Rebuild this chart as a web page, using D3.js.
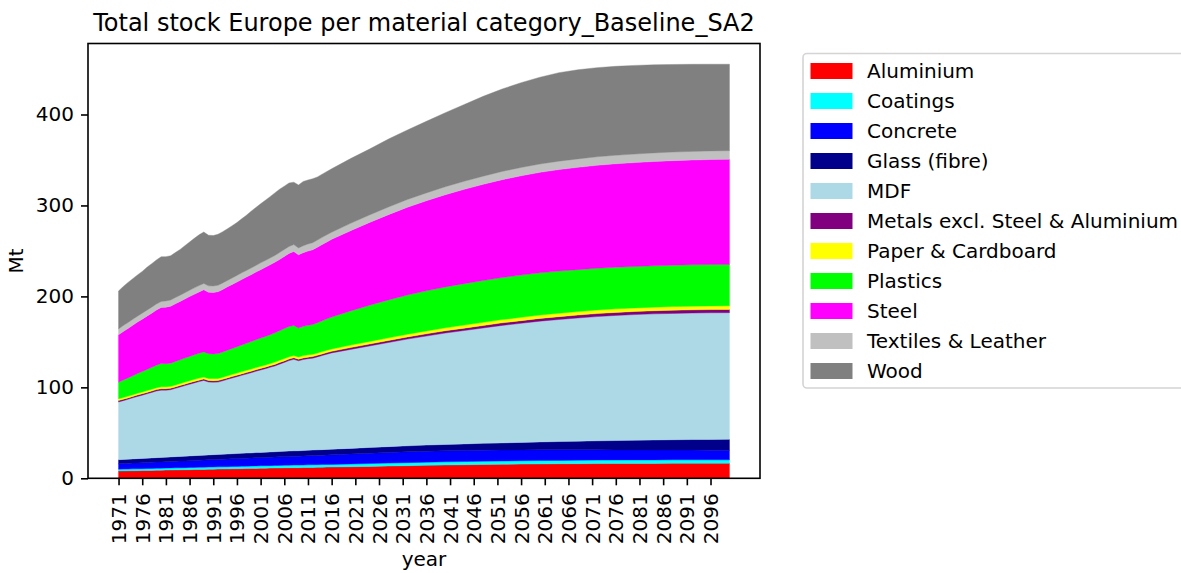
<!DOCTYPE html>
<meta charset="utf-8">
<script src="https://d3js.org/d3.v7.min.js"></script>
<style>
  body { margin: 0; background: #fff; }
  text { font-family: "DejaVu Sans", sans-serif; fill: #000; }
</style>
<div id="my_dataviz"></div>
<script>

// years (yearly until 2016, then every 4 years)
var years = [1971,1972,1973,1974,1975,1976,1977,1978,1979,1980,
  1981,1982,1983,1984,1985,1986,1987,1988,1989,1990,
  1991,1992,1993,1994,1995,1996,1997,1998,1999,2000,
  2001,2002,2003,2004,2005,2006,2007,2008,2009,2010,
  2011,2012,2013,2014,2015,2016,
  2020,2024,2028,2032,2036,2040,2044,2048,2052,2056,
  2060,2064,2068,2072,2076,2080,2084,2088,2092,2096,2100];

var categories = ["Aluminium", "Coatings", "Concrete", "Glass (fibre)", "MDF",
  "Metals excl. Steel & Aluminium", "Paper & Cardboard", "Plastics", "Steel",
  "Textiles & Leather", "Wood"];

var colors = ["#ff0000", "#00ffff", "#0000ff", "#00008b", "#add8e6",
  "#800080", "#ffff00", "#00ff00", "#ff00ff", "#c0c0c0", "#808080"];

// stock in Mt, one array per material
var aluminium = [8.0,8.1,8.2,8.3,8.4,8.5,8.6,8.7,8.8,8.9,
  9.0,9.1,9.2,9.3,9.4,9.5,9.6,9.7,9.8,9.9,
  10.0,10.1,10.2,10.3,10.4,10.5,10.6,10.7,10.8,10.9,
  11.0,11.1,11.2,11.3,11.4,11.5,11.6,11.7,11.7,11.8,
  11.9,12.0,12.1,12.2,12.3,12.4,
  12.7,13.1,13.5,13.9,14.3,14.6,14.9,15.2,15.4,15.6,
  15.8,16.0,16.1,16.2,16.3,16.4,16.4,16.5,16.5,16.5,16.5];
var coatings = [2.0,2.0,2.0,2.1,2.1,2.1,2.1,2.2,2.2,2.2,
  2.2,2.3,2.3,2.3,2.3,2.4,2.4,2.4,2.4,2.5,
  2.5,2.5,2.5,2.5,2.6,2.6,2.6,2.6,2.6,2.7,
  2.7,2.7,2.7,2.7,2.8,2.8,2.8,2.8,2.8,2.8,
  2.9,2.9,2.9,2.9,2.9,2.9,
  3.0,3.1,3.2,3.3,3.4,3.5,3.5,3.6,3.6,3.7,
  3.7,3.7,3.8,3.8,3.8,3.8,3.8,3.8,3.8,3.8,3.8];
var concrete = [6.0,6.1,6.2,6.3,6.4,6.5,6.6,6.7,6.8,6.9,
  7.0,7.1,7.2,7.3,7.4,7.5,7.6,7.7,7.8,7.9,
  8.0,8.1,8.2,8.3,8.4,8.5,8.6,8.7,8.8,8.9,
  9.0,9.1,9.2,9.3,9.4,9.5,9.6,9.7,9.8,9.9,
  10.0,10.1,10.2,10.3,10.4,10.5,
  10.9,11.3,11.6,11.9,12.0,12.1,12.1,12.1,12.0,11.9,
  11.8,11.6,11.4,11.3,11.1,11.0,10.9,10.8,10.7,10.6,10.5];
var glass = [4.5,4.5,4.6,4.6,4.7,4.7,4.8,4.8,4.9,4.9,
  5.0,5.0,5.1,5.1,5.2,5.2,5.3,5.3,5.4,5.4,
  5.5,5.5,5.5,5.6,5.6,5.6,5.7,5.7,5.7,5.8,
  5.8,5.8,5.9,5.9,5.9,5.9,6.0,6.0,6.0,6.0,
  6.1,6.1,6.1,6.1,6.2,6.2,
  6.3,6.4,6.5,6.6,6.8,7.0,7.3,7.6,7.9,8.3,
  8.7,9.1,9.5,9.9,10.3,10.7,11.0,11.3,11.6,11.8,12.0];
var mdf = [63.5,64.7,65.9,67.2,68.4,69.6,70.8,72.0,73.3,74.0,
  73.7,73.9,75.1,76.4,77.6,78.8,80.0,81.2,82.2,80.2,
  79.7,79.6,80.8,82.1,83.3,84.5,85.7,86.9,88.2,89.4,
  90.6,91.8,93.0,94.3,96.0,97.7,99.4,100.6,98.9,100.1,
  100.6,101.0,102.2,103.5,104.7,105.9,
  108.8,111.6,114.5,117.4,119.9,122.5,124.7,126.8,129.2,130.9,
  132.8,134.2,135.5,136.6,137.6,138.1,138.7,138.9,139.1,139.3,139.3];
var metals = [1.5,1.5,1.5,1.5,1.5,1.5,1.5,1.5,1.5,1.5,
  1.6,1.6,1.6,1.6,1.6,1.6,1.6,1.6,1.6,1.6,
  1.6,1.6,1.6,1.6,1.6,1.6,1.6,1.6,1.6,1.6,
  1.7,1.7,1.7,1.7,1.7,1.7,1.7,1.7,1.7,1.7,
  1.7,1.7,1.7,1.7,1.7,1.7,
  2.0,2.1,2.2,2.3,2.4,2.5,2.6,2.7,2.8,2.9,
  3.0,3.1,3.2,3.3,3.3,3.4,3.4,3.5,3.5,3.5,3.5];
var paper = [2.0,2.0,2.0,2.0,2.1,2.1,2.1,2.1,2.1,2.2,
  2.2,2.2,2.2,2.2,2.3,2.3,2.3,2.3,2.3,2.3,
  2.4,2.4,2.4,2.4,2.4,2.4,2.5,2.5,2.5,2.5,
  2.5,2.5,2.5,2.6,2.6,2.6,2.6,2.6,2.6,2.6,
  2.6,2.6,2.7,2.7,2.7,2.7,
  2.8,2.9,3.0,3.1,3.2,3.3,3.4,3.5,3.6,3.7,
  3.7,3.8,3.8,3.9,3.9,3.9,4.0,4.0,4.0,4.0,4.0];
var plastics = [18.2,19.2,20.0,20.8,21.6,22.4,23.2,24.0,24.8,25.5,
  25.3,25.4,25.8,26.1,26.4,26.7,27.0,27.3,27.5,27.2,
  27.1,27.3,27.7,28.1,28.5,28.9,29.3,29.7,30.1,30.5,
  30.9,31.3,31.7,32.1,32.5,32.9,33.2,33.0,31.8,32.2,
  32.4,32.7,33.2,33.8,34.4,35.0,
  37.5,39.8,41.6,43.0,44.1,44.9,45.5,45.9,46.2,46.4,
  46.4,46.3,46.1,45.9,45.7,45.5,45.4,45.4,45.5,45.6,45.6];
var steel = [52.0,53.3,54.4,55.5,56.6,57.6,58.6,59.6,60.6,61.8,
  62.2,62.6,63.4,64.2,65.0,65.8,66.6,67.4,68.3,67.6,
  67.6,68.0,68.8,69.6,70.4,71.2,72.0,72.8,73.6,74.4,
  75.2,76.0,76.8,77.6,78.4,79.4,80.4,81.3,80.4,81.0,
  81.6,82.2,83.0,83.8,84.6,85.4,
  88.2,91.0,93.8,96.5,99.0,101.4,103.7,105.8,107.6,109.2,
  110.5,111.6,112.5,113.2,113.8,114.3,114.7,115.0,115.2,115.4,115.5];
var textiles = [6.5,6.5,6.5,6.5,6.5,6.6,6.6,6.6,6.6,6.6,
  6.8,6.8,6.8,6.8,6.8,7.0,7.0,7.0,7.0,7.0,
  7.1,7.1,7.1,7.1,7.1,7.3,7.3,7.3,7.3,7.3,
  7.5,7.5,7.5,7.5,7.5,7.6,7.6,7.6,7.6,7.6,
  7.8,7.8,7.8,7.9,7.9,7.9,
  8.1,8.3,8.4,8.6,8.7,8.8,8.9,9.0,9.1,9.2,
  9.2,9.3,9.3,9.4,9.4,9.4,9.5,9.5,9.5,9.5,9.5];
var wood = [41.8,43.0,44.1,44.7,45.3,45.9,47.1,47.8,48.5,49.1,
  48.7,48.7,49.5,50.4,51.8,53.0,54.4,55.8,56.5,55.7,
  55.4,56.1,56.4,56.7,57.5,58.1,59.4,60.7,62.5,63.8,
  64.9,66.2,67.5,68.8,69.6,69.6,69.8,68.6,69.2,70.7,
  70.4,70.3,69.5,69.5,69.6,69.7,
  71.2,72.4,74.7,76.4,78.7,81.4,84.4,87.8,90.6,93.2,
  95.4,97.3,98.0,98.0,97.8,97.5,96.8,96.3,95.8,95.3,95.1];

var yTicks = [0, 100, 200, 300, 400];
var xTicks = [1971,1976,1981,1986,1991,1996,2001,2006,2011,2016,2021,2026,2031,
  2036,2041,2046,2051,2056,2061,2066,2071,2076,2081,2086,2091,2096];

var series = [aluminium, coatings, concrete, glass, mdf, metals, paper,
  plastics, steel, textiles, wood];

// build rows for d3.stack
var data = years.map(function(yr, i) {
  var row = {year: yr};
  categories.forEach(function(c, k) { row[c] = series[k][i]; });
  return row;
});

var stacked = d3.stack().keys(categories)(data);

// axes box (note: "top" is taken by window.top, so use a box object)
var box = {left: 88, right: 760, top: 43.5, bottom: 478.3};

var svg = d3.select("#my_dataviz")
  .append("svg")
    .attr("width", 1181)
    .attr("height", 573);

svg.append("rect").attr("width", 1181).attr("height", 573).attr("fill", "#fff");

var span = years[years.length - 1] - years[0];
var x = d3.scaleLinear()
    .domain([years[0] - 0.05 * span, years[years.length - 1] + 0.05 * span])
    .range([box.left, box.right]);

var yMax = d3.max(stacked[stacked.length - 1], function(d) { return d[1]; }) * 1.05;
var y = d3.scaleLinear()
    .domain([0, yMax])
    .range([box.bottom, box.top]);

var area = d3.area()
    .x(function(d) { return x(d.data.year); })
    .y0(function(d) { return y(d[0]); })
    .y1(function(d) { return y(d[1]); });

svg.append("g")
  .selectAll("path")
  .data(stacked)
  .enter()
  .append("path")
    .attr("d", area)
    .attr("fill", function(d, i) { return colors[i]; })
    .attr("stroke", function(d, i) { return colors[i]; })
    .attr("stroke-width", 0.4);

// x axis
var xAxis = svg.append("g")
    .attr("transform", "translate(0," + box.bottom + ")")
    .call(d3.axisBottom(x).tickValues(xTicks).tickFormat(d3.format("d")).tickSize(7).tickPadding(7));
xAxis.select(".domain").remove();
xAxis.selectAll(".tick line").attr("stroke", "#000").attr("stroke-width", 1.6);
xAxis.selectAll(".tick text")
    .attr("transform", "rotate(-90)")
    .attr("text-anchor", "end")
    .attr("x", -15)
    .attr("y", 0)
    .attr("dy", "0.35em")
    .style("font-size", "20px")
    .style("font-family", "DejaVu Sans");

// y axis
var yAxis = svg.append("g")
    .attr("transform", "translate(" + box.left + ",0)")
    .call(d3.axisLeft(y).tickValues(yTicks).tickSize(7).tickPadding(7));
yAxis.select(".domain").remove();
yAxis.selectAll(".tick line").attr("stroke", "#000").attr("stroke-width", 1.6);
yAxis.selectAll(".tick text")
    .style("font-size", "20px")
    .style("font-family", "DejaVu Sans");

// spines
svg.append("rect")
    .attr("x", box.left).attr("y", box.top)
    .attr("width", box.right - box.left).attr("height", box.bottom - box.top)
    .attr("fill", "none")
    .attr("stroke", "#000")
    .attr("stroke-width", 1.6);

// title and axis labels
svg.append("text")
    .attr("x", (box.left + box.right) / 2).attr("y", 31)
    .attr("text-anchor", "middle")
    .style("font-size", "24px")
    .text("Total stock Europe per material category_Baseline_SA2");

svg.append("text")
    .attr("x", (box.left + box.right) / 2).attr("y", 566)
    .attr("text-anchor", "middle")
    .style("font-size", "20px")
    .text("year");

svg.append("text")
    .attr("transform", "translate(23," + (box.top + box.bottom) / 2 + ") rotate(-90)")
    .attr("text-anchor", "middle")
    .style("font-size", "20px")
    .text("Mt");

// legend
var lx = 803, ly = 53.5, rowH = 30;
svg.append("rect")
    .attr("x", lx).attr("y", ly)
    .attr("width", 400).attr("height", 334.5)
    .attr("rx", 4)
    .attr("fill", "#fff")
    .attr("stroke", "#d4d4d4")
    .attr("stroke-width", 1.6);

var leg = svg.append("g").selectAll("g")
  .data(categories)
  .enter()
  .append("g")
    .attr("transform", function(d, i) { return "translate(0," + (ly + 17.5 + i * rowH) + ")"; });

leg.append("rect")
    .attr("x", 810.5).attr("y", -8)
    .attr("width", 42).attr("height", 16)
    .attr("fill", function(d, i) { return colors[i]; });

leg.append("text")
    .attr("x", 867).attr("y", 7)
    .style("font-size", "20px")
    .text(function(d) { return d; });

</script>
